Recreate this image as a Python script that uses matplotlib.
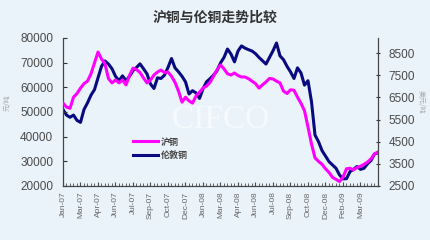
import numpy as np
import matplotlib
matplotlib.use("Agg")
import matplotlib.pyplot as plt

plt.rcParams['font.family'] = ['Noto Sans CJK SC', 'DejaVu Sans']

# data (roughly every ~9 trading days)
shfe_copper = [53600, 52000, 51500, 56000, 57500, 59700, 61500, 62500, 65500, 69900,
               74300, 71500, 69500, 63500, 61800, 63000, 61800, 63000, 61000, 64800,
               67800, 67200, 66000, 63800, 61800, 63000, 65000, 66200, 67000, 66000,
               66200, 64500, 62000, 58500, 54000, 56000, 54500, 53600, 56500, 58000,
               59700, 60500, 62000, 64500, 67000, 69100, 67500, 65500, 65000, 65800,
               64800, 64200, 64200, 63500, 62500, 61500, 59700, 61000, 62200, 63600,
               63400, 62500, 61800, 58500, 57500, 59000, 58800, 56000, 53500, 50500,
               43900, 37000, 31400, 30000, 28800, 27000, 25500, 23500, 22700, 21800,
               23600, 27000, 27200, 26500, 27500, 28000, 28800, 29700, 31000, 33000,
               33800]
lme_copper = [5950, 5700, 5600, 5700, 5460, 5370, 5950, 6250, 6600, 6850,
              7380, 7900, 8140, 8000, 7790, 7450, 7250, 7470, 7250, 7450,
              7700, 7850, 8010, 7790, 7560, 7100, 6900, 7380, 7350, 7500,
              7850, 8250, 7830, 7650, 7450, 7200, 6650, 6800, 6700, 6450,
              6880, 7200, 7340, 7500, 7700, 8050, 8300, 8680, 8450, 8100,
              8590, 8820, 8720, 8650, 8590, 8470, 8300, 8150, 8000, 8300,
              8600, 8950, 8370, 8200, 7900, 7650, 7350, 7830, 7600, 7050,
              7250, 6300, 4800, 4500, 4100, 3850, 3600, 3450, 3300, 3000,
              2820, 2830, 3150, 3250, 3380, 3250, 3300, 3500, 3650, 3950,
              4000]
tick_labels = ['Jan-07', 'Mar-07', 'Apr-07', 'Jun-07', 'Jul-07', 'Sep-07', 'Oct-07',
               'Dec-07', 'Jan-08', 'Mar-08', 'Apr-08', 'Jun-08', 'Jul-08', 'Sep-08',
               'Oct-08', 'Dec-08', 'Feb-09', 'Mar-09']
left_ticks = [20000, 30000, 40000, 50000, 60000, 70000, 80000]
right_ticks = [2500, 3500, 4500, 5500, 6500, 7500, 8500]

bg = '#eaf3fa'
grey = '#4a4a4a'
x = np.arange(len(shfe_copper))

fig = plt.figure(figsize=(4.31, 2.40), dpi=100, facecolor=bg)
ax = fig.add_axes([63 / 431, 1 - 186 / 240, 315 / 431, 148 / 240], facecolor=bg)
ax2 = ax.twinx()

l1, = ax.plot(x, shfe_copper, color='#ff00ff', linewidth=2.2, label='沪铜', zorder=3)
l2, = ax2.plot(x, lme_copper, color='#0a0a80', linewidth=2.2, label='伦敦铜', zorder=2)
ax.set_zorder(ax2.get_zorder() + 1)
ax.patch.set_visible(False)
ax2.patch.set_visible(True)
ax2.patch.set_facecolor(bg)

ax.set_xlim(0, len(x) - 1)
ax.set_ylim(20000, 80000)
ax2.set_ylim(2500, 2500 + 6000 * 148 / 133)

ax.set_yticks(left_ticks)
ax.set_yticklabels([str(v) for v in left_ticks], fontsize=8.5, color=grey, family='Liberation Sans')
ax2.set_yticks(right_ticks)
ax2.set_yticklabels([str(v) for v in right_ticks], fontsize=8.5, color=grey, family='Liberation Sans')

ax.set_xticks(x[::5][:len(tick_labels)])
ax.set_xticklabels(tick_labels, rotation=90, fontsize=6, color='#666666', family='Liberation Sans')
ax.set_xticks(x, minor=True)
ax.tick_params(axis='x', which='major', length=3, direction='in', color=grey, pad=4)
ax.tick_params(axis='x', which='minor', length=2, direction='in', color=grey)
ax.tick_params(axis='y', length=3, direction='in', color='#333333', pad=7)
ax2.tick_params(axis='y', length=3, direction='inout', color='#333333', pad=6)

for a in (ax, ax2):
    a.spines['top'].set_visible(False)
    for s in ('left', 'right', 'bottom'):
        a.spines[s].set_color('#444444')
        a.spines[s].set_linewidth(0.8)

fig.text(0.5, 1 - 18 / 240, '沪铜与伦铜走势比较', ha='center', va='center',
         fontsize=10, fontweight='bold', color='#333333')
fig.text(8 / 431, 1 - 103 / 240, '元/吨', rotation=90, ha='center', va='center',
         fontsize=5, color='#aaaaaa')
fig.text(421 / 431, 1 - 102 / 240, '美元/吨', rotation=270, ha='center', va='center',
         fontsize=5, color='#aaaaaa')

ax.text(0.5, 0.45, 'CIFCO', transform=ax.transAxes, ha='center', va='center',
        fontsize=24, color='white', alpha=0.6, zorder=1, family='Liberation Serif')

ax.legend([l1, l2], ['沪铜', '伦敦铜'], loc='lower left', bbox_to_anchor=(0.21, 0.15),
          frameon=False, handlelength=2.8, labelspacing=0.5,
          borderaxespad=0, handletextpad=0.3, labelcolor='#444444',
          prop={'weight': 'bold', 'size': 6.5})

fig.savefig('out.png', dpi=100, facecolor=bg)
